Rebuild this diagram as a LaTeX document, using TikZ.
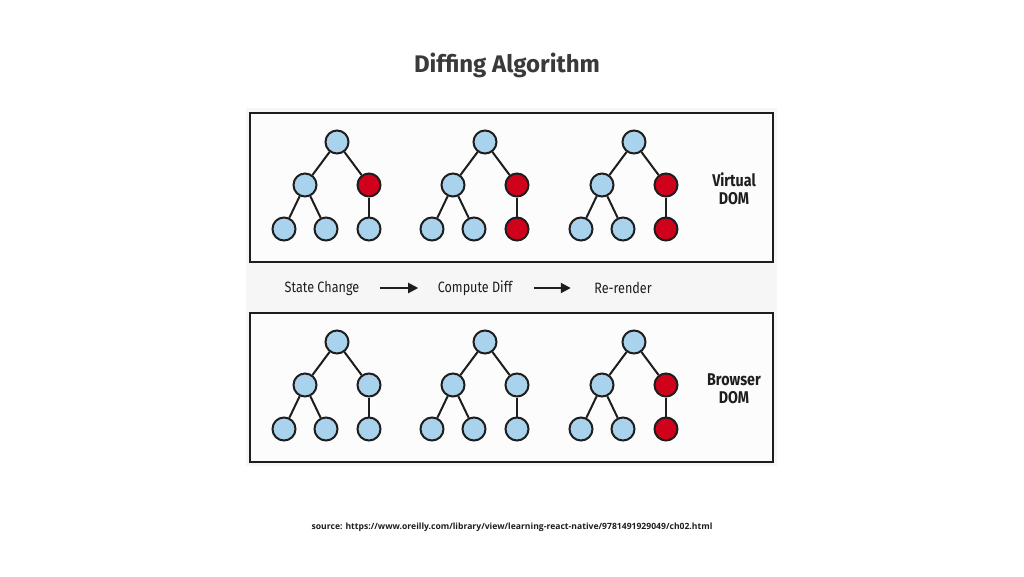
\documentclass[tikz,border=0pt]{standalone}
\usepackage{fontspec}
\usepackage{xcolor}
\usetikzlibrary{
arrows.meta,
positioning,
calc
}
\newfontfamily\titlefont{Fira Sans}
\newfontfamily\labelfont[FakeStretch=0.84]{Fira Sans}
\newfontfamily\srcfont{Open Sans}
\definecolor{DiffInk}{HTML}{1E1E1E}
\definecolor{DiffTitle}{HTML}{3A3A3A}
\definecolor{DiffBlue}{HTML}{A9D3EC}
\definecolor{DiffRed}{HTML}{D0021B}
\definecolor{DiffBand}{HTML}{F6F6F6}
\definecolor{DiffPanel}{HTML}{FCFCFC}
\tikzset{
domnode/.style={circle, draw=DiffInk, line width=2pt, fill=DiffBlue,
  minimum size=23pt, inner sep=0pt},
domchanged/.style={domnode, fill=DiffRed},
domedge/.style={draw=DiffInk, line width=2pt},
dompanel/.style={draw=DiffInk, line width=2pt, fill=DiffPanel},
domlabel/.style={font=\labelfont\bfseries\fontsize{17}{18}\selectfont, align=center, text=DiffInk},
steplabel/.style={font=\labelfont\fontsize{15}{18}\selectfont, text=DiffInk},
steparrow/.style={-{Triangle[length=10pt,width=10pt]}, line width=2pt, draw=DiffInk}
}

% draws one tree: #1 = name prefix, #2 = x of root, #3 = y of root, #4, #5 = styles of right child and its leaf
\newcommand{\domtree}[5]{
\node[domnode] (#1r) at (#2,#3) {};
\node[domnode] (#1l) at ($(#1r)+(-32,43)$) {};
\node[#4] (#1m) at ($(#1r)+(32,43)$) {};
\node[domnode] (#1ll) at ($(#1r)+(-53,87)$) {};
\node[domnode] (#1lr) at ($(#1r)+(-11,87)$) {};
\node[#5] (#1mc) at ($(#1r)+(32,87)$) {};
\foreach \a/\b in {r/l,r/m,l/ll,l/lr,m/mc}
\draw[domedge] (#1\a) -- (#1\b);
}

\begin{document}
\begin{tikzpicture}[x=1pt,y=-1pt]
\useasboundingbox[fill=white] (0,0) rectangle (1024,576);

\node[font=\titlefont\bfseries\fontsize{24}{28}\selectfont, text=DiffTitle] (title) at (507,65) {Diffing Algorithm};

\fill[DiffBand] (246,108) rectangle (777,466);
\draw[dompanel] (250,113) rectangle (773,262);
\draw[dompanel] (250,313) rectangle (773,462);

% virtual dom
\domtree{va}{337}{142}{domchanged}{domnode}
\domtree{vb}{485}{142}{domchanged}{domchanged}
\domtree{vc}{634}{142}{domchanged}{domchanged}
\node[domlabel] (vlabel) at (734,189) {Virtual\\DOM};

% browser dom
\domtree{ba}{337}{342}{domnode}{domnode}
\domtree{bb}{485}{342}{domnode}{domnode}
\domtree{bc}{634}{342}{domchanged}{domchanged}
\node[domlabel] (blabel) at (734,389) {Browser\\DOM};

% steps
\node[steplabel] (state) at (322,288) {State Change};
\node[steplabel] (diff) at (475,288) {Compute Diff};
\node[steplabel] (render) at (623,288) {Re-render};
\draw[steparrow] ([xshift=17pt]state.east) -- ([xshift=-16pt]diff.west);
\draw[steparrow] ([xshift=18pt]diff.east) -- ([xshift=-20pt]render.west);

\node[font=\srcfont\bfseries\fontsize{8.6}{11}\selectfont, text=DiffInk] (source) at (512,527)
  {source: https://www.oreilly.com/library/view/learning-react-native/9781491929049/ch02.html};
\end{tikzpicture}
\end{document}
